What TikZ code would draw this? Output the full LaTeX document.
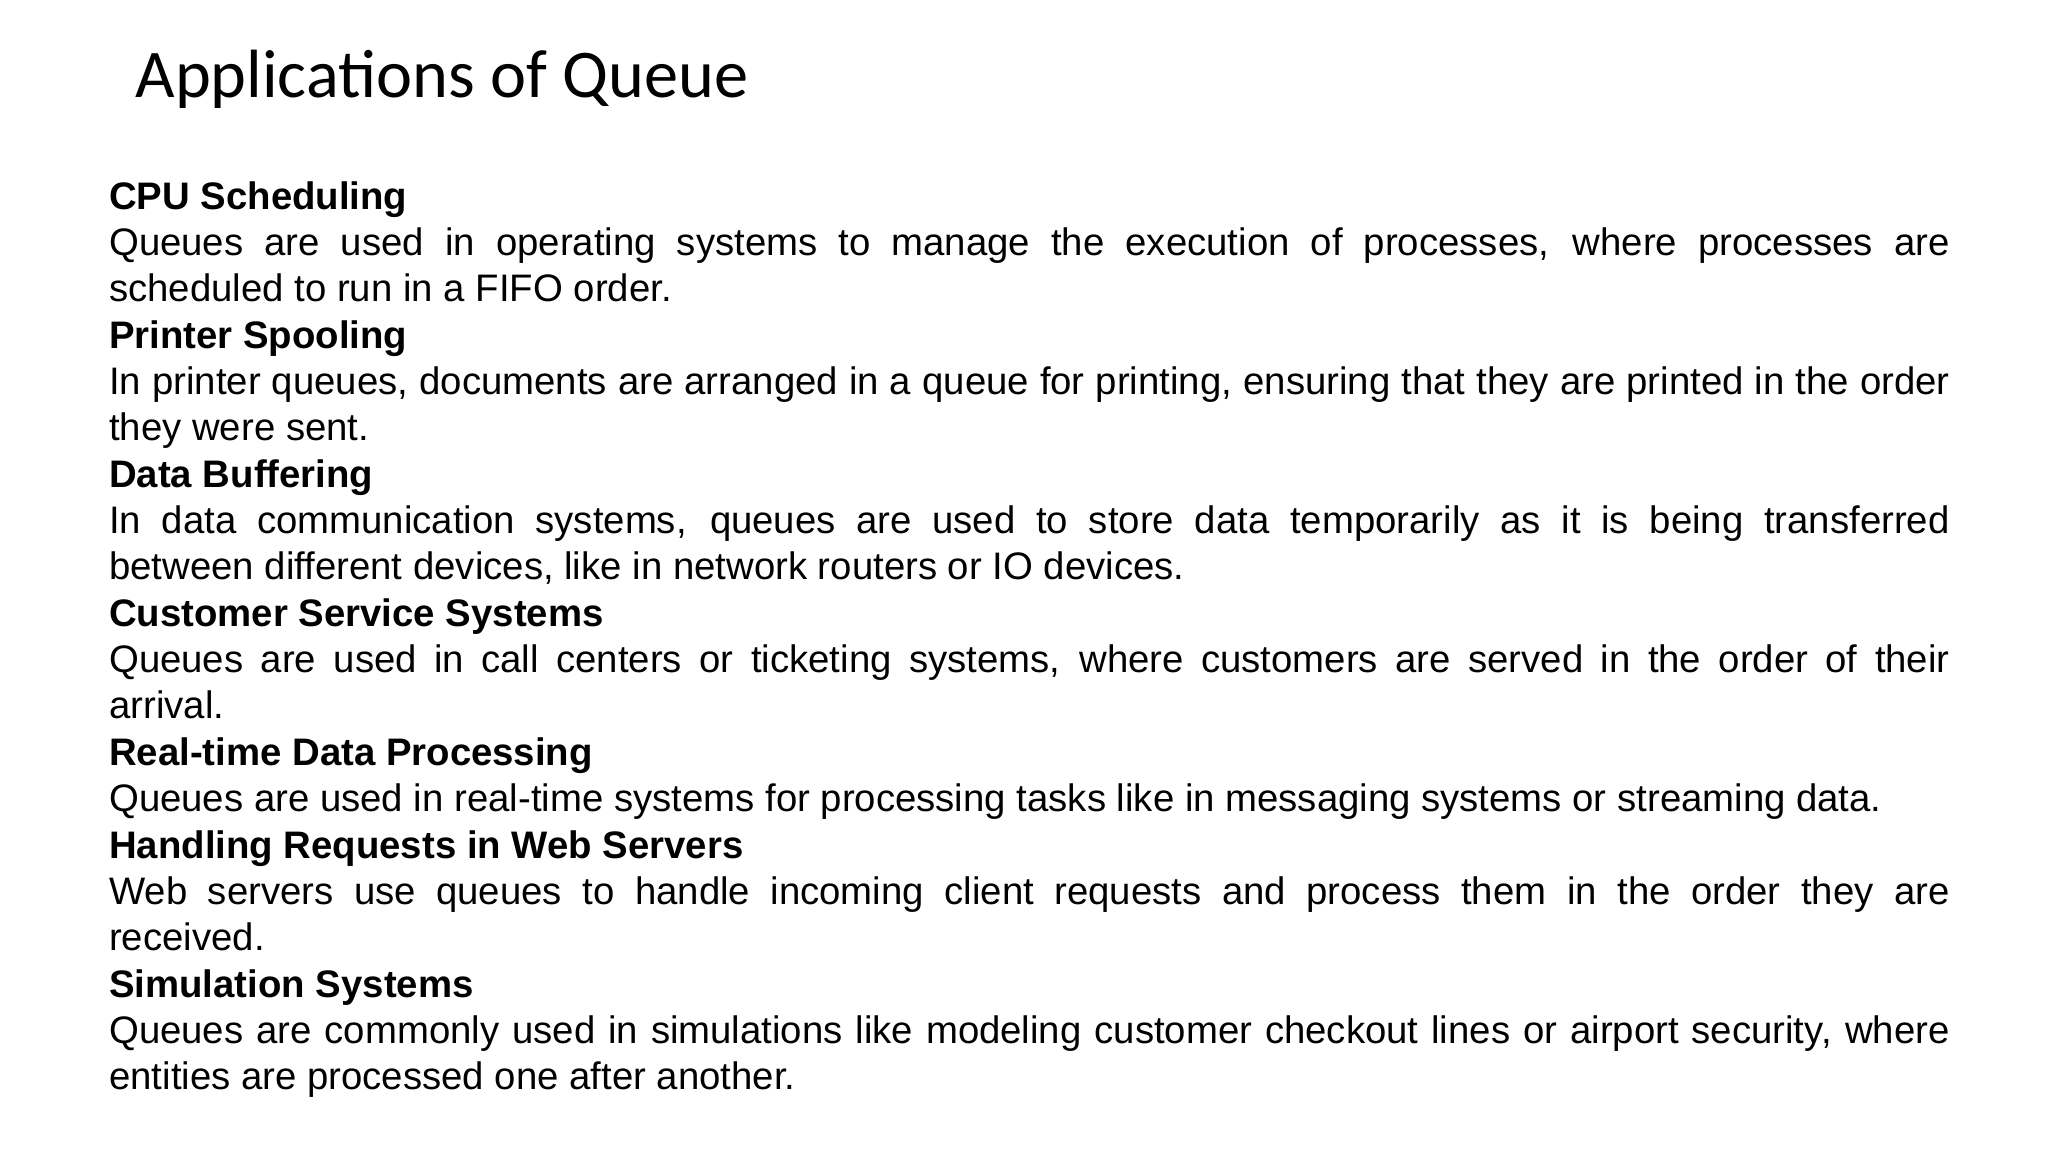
\documentclass[tikz,border=0pt]{standalone}
\usepackage{fontspec}
\setmainfont[Ligatures=NoCommon]{Liberation Sans}
\newfontfamily\titlefont{Carlito}
\begin{document}
\begin{tikzpicture}[x=1pt,y=1pt,
  body/.style={anchor=north west,inner sep=0pt,text width=1402pt,align=justify,
    font=\fontsize{29.2}{35.3}\selectfont}]
\useasboundingbox[fill=white] (0,0) rectangle (1560,-877.5);
\node[anchor=base west,inner sep=0pt,font=\titlefont\fontsize{52}{60}\selectfont] (title) at (103,-74) {Applications of Queue};
\node[body] (txt) at (83,-138) {%
\textbf{CPU Scheduling}\par
Queues are used in operating systems to manage the execution of processes, where processes are\linebreak scheduled to run in a FIFO order.\par
\textbf{Printer Spooling}\par
In printer queues, documents are arranged in a queue for printing, ensuring that they are printed in the order\linebreak they were sent.\par
\textbf{Data Buffering}\par
In data communication systems, queues are used to store data temporarily as it is being transferred\linebreak between different devices, like in network routers or IO devices.\par
\textbf{Customer Service Systems}\par
Queues are used in call centers or ticketing systems, where customers are served in the order of their\linebreak arrival.\par
\textbf{Real-time Data Processing}\par
Queues are used in real-time systems for processing tasks like in messaging systems or streaming data.\par
\textbf{Handling Requests in Web Servers}\par
Web servers use queues to handle incoming client requests and process them in the order they are\linebreak received.\par
\textbf{Simulation Systems}\par
Queues are commonly used in simulations like modeling customer checkout lines or airport security, where\linebreak entities are processed one after another.};
\end{tikzpicture}
\end{document}
